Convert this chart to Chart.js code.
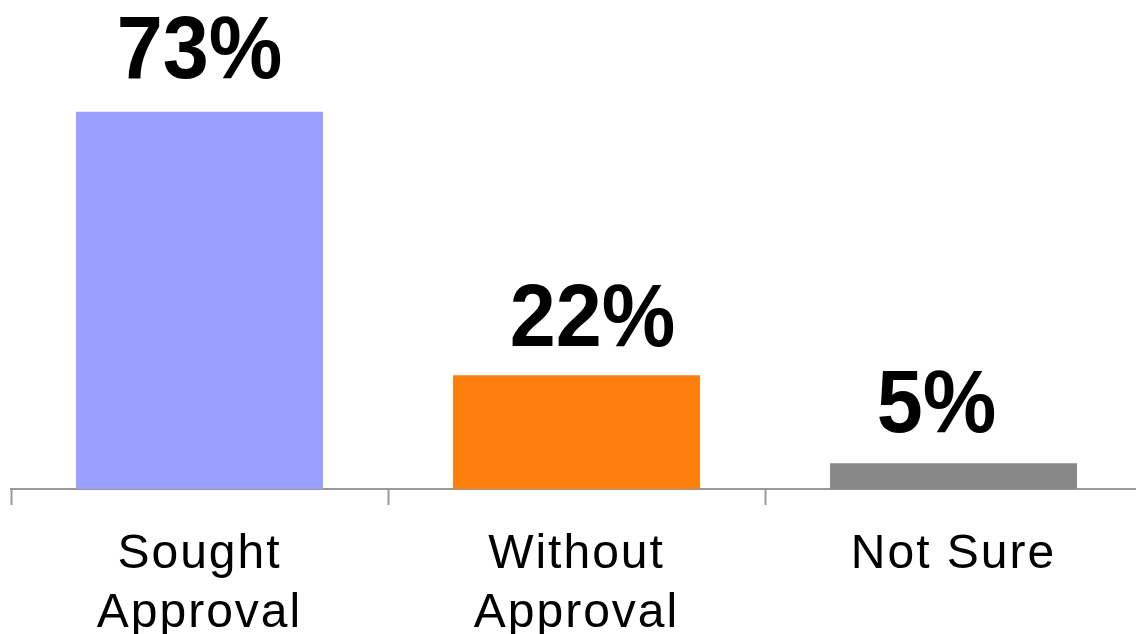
<!DOCTYPE html>
<html>
<head>
<meta charset="utf-8">
<script src="https://cdn.jsdelivr.net/npm/chart.js@4/dist/chart.umd.min.js"></script>
<style>
  html, body { margin: 0; padding: 0; background: #fff; overflow: hidden; }
  #wrap { width: 1142px; height: 634px; }
</style>
</head>
<body>
<div id="wrap"><canvas id="c" width="1142" height="634"></canvas></div>
<script>
const categories = [["Sought", "Approval"], ["Without", "Approval"], "Not Sure"];
const values = [73, 22, 5];
const valueLabels = ["73%", "22%", "5%"];
const barColors = ["#99A0FF", "#FF7F0E", "#888888"];

const valueLabelPlugin = {
  id: 'valueLabels',
  beforeDraw(chart) {
    chart.ctx.letterSpacing = '2px';
  },
  afterDatasetsDraw(chart, args, opts) {
    const ctx = chart.ctx;
    const meta = chart.getDatasetMeta(0);
    ctx.save();
    ctx.letterSpacing = '0px';
    ctx.font = 'bold 89px "Liberation Sans", Arial, sans-serif';
    ctx.fillStyle = '#000';
    ctx.textAlign = 'center';
    ctx.textBaseline = 'alphabetic';
    meta.data.forEach((bar, i) => {
      const o = opts.nudge[i];
      ctx.save();
      ctx.translate(bar.x + o[0], bar.y - o[1]);
      ctx.scale(0.93, 1);
      ctx.fillText(valueLabels[i], 0, 0);
      ctx.restore();
    });
    ctx.restore();
    ctx.letterSpacing = '2px';
  }
};

new Chart(document.getElementById('c'), {
  type: 'bar',
  data: {
    labels: categories,
    datasets: [{
      data: values,
      backgroundColor: barColors,
      borderWidth: 0,
      categoryPercentage: 1.0,
      barPercentage: 0.655
    }]
  },
  options: {
    responsive: false,
    animation: false,
    devicePixelRatio: 1,
    layout: { padding: { left: 11, right: 0, top: 0, bottom: 0 } },
    plugins: {
      legend: { display: false },
      tooltip: { enabled: false },
      valueLabels: { nudge: [[0, 34], [16, 29], [-17, 31]] }
    },
    scales: {
      y: { display: false, min: 0, max: 94.6 },
      x: {
        afterFit(s) { s.height = 145; },
        border: { display: true, color: '#999999', width: 2 },
        grid: { display: true, drawOnChartArea: false, drawTicks: true, tickLength: 16, tickWidth: 2, tickColor: '#999999', offset: true },
        ticks: {
          color: '#000',
          padding: 20,
          maxRotation: 0,
          autoSkip: false,
          font: { family: '"Liberation Sans", Arial, sans-serif', size: 48, lineHeight: 1.23 }
        }
      }
    }
  },
  plugins: [valueLabelPlugin]
});
</script>
</body>
</html>
